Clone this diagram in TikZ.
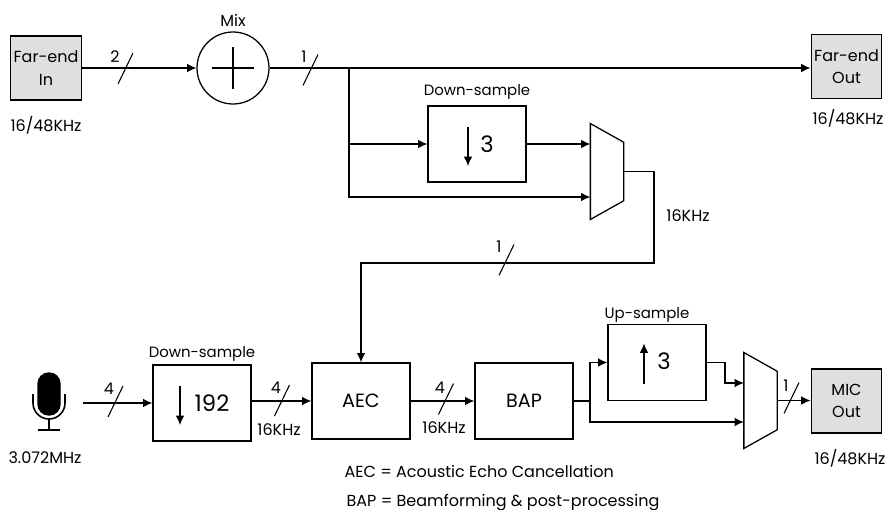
\documentclass[tikz,border=0pt]{standalone}
\usepackage{fontspec}
\setmainfont{Poppins}
\usepackage{tikz}
\usetikzlibrary{arrows.meta,positioning}

\begin{document}
\begin{tikzpicture}[x=0.75pt,y=-0.75pt,>={Latex[length=7pt,width=6.5pt]},line width=0.95pt]
  \tikzstyle{blockbox}=[draw,align=center,inner sep=0,minimum width=73.5pt,minimum height=57pt,font=\fontsize{14.4}{16}\selectfont]
  \tikzstyle{iobox}=[draw,fill=gray!25,align=center,inner sep=0,minimum width=53pt,minimum height=48pt,font=\fontsize{12}{17}\selectfont]
  \tikzstyle{lbl}=[inner sep=0,font=\fontsize{12}{14}\selectfont]
  \tikzstyle{titlelbl}=[inner sep=0,font=\fontsize{11.2}{14}\selectfont]
  \tikzstyle{factor}=[inner sep=0,font=\fontsize{17}{19}\selectfont]
  \tikzstyle{muxbox}=[inner sep=0,minimum width=24pt,minimum height=71pt]
  \useasboundingbox (0,0) rectangle (889,510);
  % input and output blocks
  \node[iobox] (farin) at (46,68) {Far-end\\In};
  \node[iobox] (farout) at (846.5,66.5) {Far-end\\Out};
  \node[iobox] (micout) at (846.5,401) {MIC\\Out};
  \node[draw,circle,inner sep=0,minimum size=54pt] (mix) at (233,68) {};
  \node[blockbox] (dsthree) at (477,144) {};
  \node[blockbox] (dsmic) at (202,403) {};
  \node[blockbox] (aec) at (361,401) {AEC};
  \node[blockbox] (bap) at (524,401) {BAP};
  \node[blockbox] (usthree) at (657,362.5) {};
  \node[muxbox] (muxa) at (607,171.5) {};
  \node[muxbox] (muxb) at (760.5,400.5) {};
  \node[inner sep=0,minimum width=49.5pt,minimum height=45pt] (mic) at (49,403) {};
  % the two muxes
  \foreach \m in {muxa,muxb}
    \draw (\m.north west) -- ([yshift=-14pt]\m.north east) -- ([yshift=14pt]\m.south east) -- (\m.south west) -- cycle;
  % plus sign, arrows and factors inside the blocks
  \draw[line width=0.8pt] ([xshift=-16]mix.center) -- ([xshift=16]mix.center);
  \draw[line width=0.8pt] ([yshift=-16]mix.center) -- ([yshift=16]mix.center);
  \draw[->] ([shift={(-9,-17)}]dsthree.center) -- ([shift={(-9,22)}]dsthree.center);
  \draw[->] ([shift={(-22,-17)}]dsmic.center) -- ([shift={(-22,22)}]dsmic.center);
  \draw[->] ([shift={(-13,21)}]usthree.center) -- ([shift={(-13,-19)}]usthree.center);
  \node[factor] (dsthreeval) at (487,144) {3};
  \node[factor] (dsmicval) at (212,403) {192};
  \node[factor] (usthreeval) at (664,361) {3};
  % microphone
  \draw[fill=black,rounded corners=8pt] (38,373) rectangle (60,415);
  \draw[line width=1.2pt] (33,394) -- (33,403) arc[start angle=180,end angle=0,x radius=16,y radius=16] -- (65,394);
  \draw (49,419) -- (49,430);
  \draw (38,430) -- (60,430);
  % text labels
  \node[lbl] (mixlbl) at (233,20) {Mix};
  \node[lbl] (inrate) at (46,125) {16/48KHz};
  \node[lbl] (outrate) at (848,118) {16/48KHz};
  \node[lbl] (micrate) at (850,458) {16/48KHz};
  \node[lbl] (micin) at (45,458) {3.072MHz};
  \node[titlelbl,above=4pt of dsthree] (dsthreelbl) {Down-sample};
  \node[titlelbl,above=2pt of dsmic] (dsmiclbl) {Down-sample};
  \node[titlelbl] (uslbl) at (647,315) {Up-sample};
  \node[lbl] (feedrate) at (688,216) {16KHz};
  \node[lbl] (aecrate) at (279,430) {16KHz};
  \node[lbl] (baprate) at (444,428) {16KHz};
  \node[lbl,anchor=base west] (aecnote) at (344,477) {AEC = Acoustic Echo Cancellation};
  \node[lbl,anchor=base west] (bapnote) at (346,506) {BAP = Beamforming \& post-processing};
  % connectors
  \coordinate (split) at (349,68);
  \coordinate (turn) at (590,401);
  \draw[->] (farin) -- (mix);
  \draw[->] (mix.east) -- (split) -- (farout.west |- split);
  \draw[->] (split) |- (dsthree.west);
  \draw[->] (split) |- (muxa.west |- 0,197);
  \draw[->] (dsthree.east) -- (muxa.west |- dsthree.east);
  \draw[->] (muxa.east) -| (654,263) -| (aec.north);
  \draw[->] (mic.east) -- (dsmic.west);
  \draw[->] (dsmic.east |- aec.west) -- (aec.west);
  \draw[->] (aec.east) -- (bap.west);
  \draw (bap.east) -- (turn);
  \draw[->] (turn) |- (usthree.west);
  \draw[->] (turn) |- (muxb.west |- 0,422);
  \draw[->] (usthree.east) -| (725,383) -- (muxb.west |- 0,383);
  \draw[->] (muxb.east) -- (micout.west |- muxb.east);
  % bus widths
  \foreach \x/\y/\lx/\ly/\w in {125.5/68.5/115/57/2,310.5/70/304/57/1,506.5/260/499/247/1,115.5/401.5/109/389/4,282/400.5/276/388/4,446/399/440/388/4,791.5/398/786/386/1}
  {
    \draw[line width=0.8pt] ([shift={(-7.5,15.5)}]\x,\y) -- ([shift={(7.5,-15.5)}]\x,\y);
    \node[lbl] at (\lx,\ly) {\w};
  }
\end{tikzpicture}
\end{document}
